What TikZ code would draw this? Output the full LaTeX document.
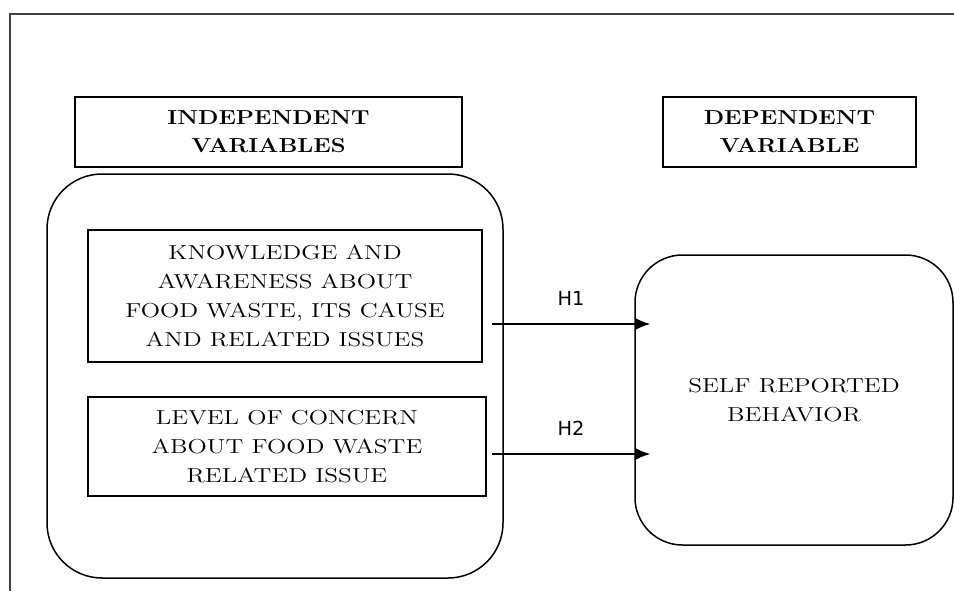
\documentclass[tikz,border=0pt]{standalone}
\usepackage{fontspec}
\setmainfont{Latin Modern Roman}[FakeStretch=1.25]
\newfontfamily\titlefont{Latin Modern Roman}[FakeStretch=1.17]
\newfontfamily\hfont{DejaVu Sans}
\usetikzlibrary{arrows.meta, calc}

\tikzset{
	titlebox/.style={draw, line width=0.25mm, inner sep=0pt, align=center, font=\titlefont\fontsize{11.5}{16}\selectfont\bfseries},
	varbox/.style={draw, line width=0.25mm, inner sep=0pt, align=center, font=\fontsize{11.5}{16.5}\selectfont},
	groupbox/.style={draw, line width=0.3mm, inner sep=0pt, align=center, font=\fontsize{11.5}{16.5}\selectfont},
	hyp/.style={-{Latex[length=2.9mm, width=2.3mm]}, line width=0.25mm},
	hlabel/.style={font=\hfont\fontsize{11}{12}\selectfont, inner sep=0pt}
}

\begin{document}
\begin{tikzpicture}
	\useasboundingbox (0,0) rectangle (19.08,11.82);
	% frame (cut off on the right and bottom)
	\draw[line width=0.5mm, black!75] (0.2,0) -- (0.2,11.54) -- (19.08,11.54);

	% titles
	\node[titlebox, minimum width=7.74cm, minimum height=1.4cm] (indep) at (5.37,9.18) {INDEPENDENT\\VARIABLES};
	\node[titlebox, minimum width=5.06cm, minimum height=1.4cm] (dep) at (15.79,9.18) {DEPENDENT\\VARIABLE};

	% independent variables
	\draw[line width=0.3mm, rounded corners=1.1cm] (0.94,0.26) rectangle (10.06,8.34);
	\node[varbox, minimum width=7.88cm, minimum height=2.64cm] (know) at (5.7,5.9) {KNOWLEDGE AND\\AWARENESS ABOUT\\FOOD WASTE, ITS CAUSE\\AND RELATED ISSUES};
	\node[varbox, minimum width=7.96cm, minimum height=1.98cm] (concern) at (5.74,2.89) {LEVEL OF CONCERN\\ABOUT FOOD WASTE\\RELATED ISSUE};

	% dependent variable
	\node[groupbox, rounded corners=0.95cm, minimum width=6.36cm, minimum height=5.8cm] (self) at (15.88,3.82) {SELF REPORTED\\BEHAVIOR};

	% hypotheses
	\coordinate (h1s) at ($(know.east)+(0.18,-0.56)$);
	\coordinate (h2s) at ($(concern.east)+(0.1,-0.15)$);
	\coordinate (tip) at ($(self.west)+(0.32,0)$);
	\draw[hyp] (h1s) -- (h1s -| tip) node[hlabel, midway, above=0.36cm] (H1) {H1};
	\draw[hyp] (h2s) -- (h2s -| tip) node[hlabel, midway, above=0.36cm] (H2) {H2};
\end{tikzpicture}
\end{document}
